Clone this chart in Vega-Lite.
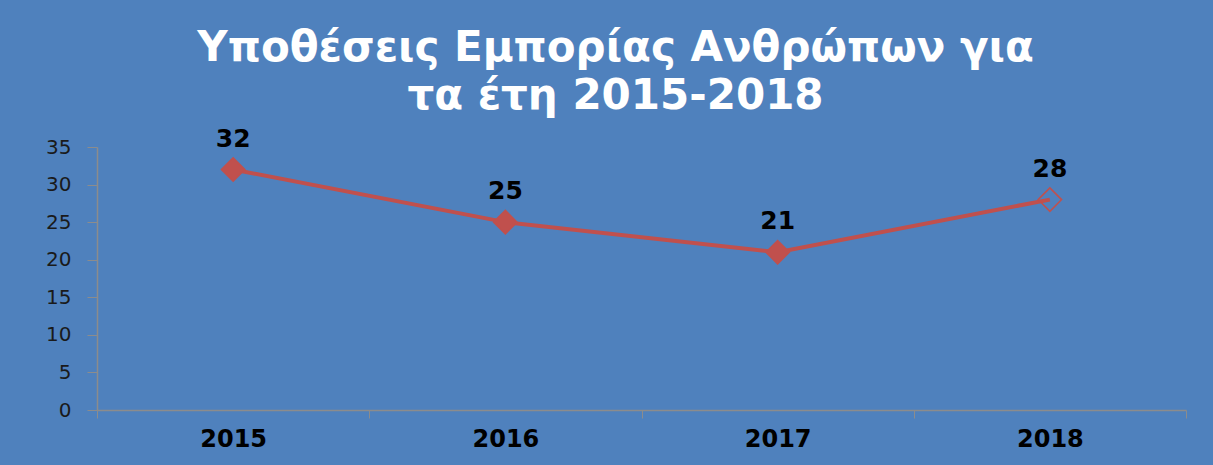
{
  "$schema": "https://vega.github.io/schema/vega-lite/v6.json",
  "width": 1089,
  "height": 263,
  "autosize": {"type": "none"},
  "padding": {"left": 97, "top": 147, "right": 27, "bottom": 55},
  "background": "#4F81BD",
  "config": {
    "view": {"stroke": null},
    "font": "DejaVu Sans"
  },
  "title": {
    "text": ["Υποθέσεις Εμπορίας Ανθρώπων για", "τα έτη 2015-2018"],
    "color": "white",
    "fontSize": 42,
    "fontWeight": "bold",
    "font": "DejaVu Sans",
    "lineHeight": 48,
    "anchor": "middle",
    "dx": -26,
    "offset": 9
  },
  "data": {
    "values": [
      {"year": "2015", "cases": 32},
      {"year": "2016", "cases": 25},
      {"year": "2017", "cases": 21},
      {"year": "2018", "cases": 28}
    ]
  },
  "encoding": {
    "x": {
      "field": "year",
      "type": "ordinal",
      "scale": {"paddingInner": 0, "paddingOuter": 0},
      "axis": {
        "title": null,
        "labelAngle": 0,
        "labelFontSize": 24,
        "labelFontWeight": "bold",
        "labelColor": "black",
        "labelPadding": 9,
        "domainColor": "#8C8C8C",
        "domainWidth": 1.5,
        "tickColor": "#8C8C8C",
        "tickSize": 8,
        "tickBand": "extent"
      }
    },
    "y": {
      "field": "cases",
      "type": "quantitative",
      "scale": {"domain": [0, 35]},
      "axis": {
        "title": null,
        "values": [0, 5, 10, 15, 20, 25, 30, 35],
        "grid": false,
        "labelFontSize": 20,
        "labelColor": "#1a1a1a",
        "labelPadding": 16,
        "domainColor": "#8C8C8C",
        "domainWidth": 1.5,
        "tickColor": "#8C8C8C",
        "tickSize": 10
      }
    }
  },
  "layer": [
    {
      "mark": {"type": "line", "color": "#C0504D", "strokeWidth": 4}
    },
    {
      "mark": {"type": "point", "shape": "diamond", "size": 550, "strokeWidth": 1.5, "opacity": 1},
      "encoding": {
        "stroke": {"value": "#C0504D"},
        "fill": {
          "condition": {"test": "datum.year === '2018'", "value": "transparent"},
          "value": "#C0504D"
        }
      }
    },
    {
      "mark": {"type": "text", "dy": -31, "fontSize": 25, "fontWeight": "bold", "color": "black"},
      "encoding": {"text": {"field": "cases", "type": "quantitative"}}
    }
  ]
}
